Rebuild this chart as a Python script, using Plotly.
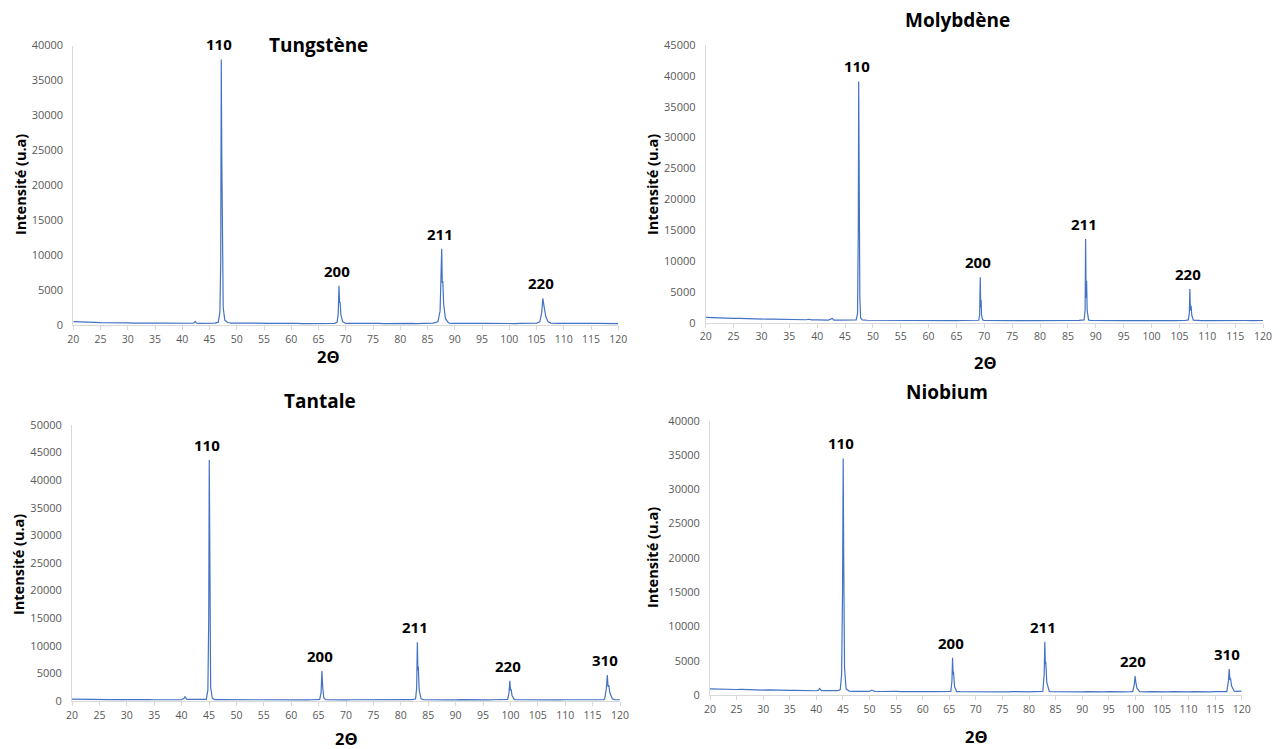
import plotly.graph_objects as go

# ---------------- DATA ----------------
# Tungstène
W_two_theta = [20, 21, 22, 23, 24, 25, 26, 27, 28, 29, 30, 31, 32, 33, 34, 35, 36, 37, 38, 39, 40, 41, 42,
               42.4, 42.6, 43, 44, 45, 46, 46.6, 46.9, 47.05, 47.15, 47.25, 47.35, 47.5, 47.8, 48.3, 49, 50,
               51, 52, 53, 54, 55, 56, 57, 58, 59, 60, 61, 62, 63, 64, 65, 66, 67, 68,
               68.4, 68.6, 68.75, 68.85, 68.95, 69.1, 69.4, 69.8, 70, 71, 72, 73, 74, 75, 76, 77, 78, 79,
               80, 81, 82, 83, 84, 85, 86, 86.9, 87.3, 87.5, 87.6, 87.7, 87.8, 87.95, 88.3, 88.8, 89,
               90, 91, 92, 93, 94, 95, 96, 97, 98, 99, 100, 101, 102, 103, 104, 105,
               105.6, 105.95, 106.15, 106.3, 106.45, 106.7, 107.1, 107.6, 108, 109, 110, 111, 112, 113,
               114, 115, 116, 117, 118, 119, 120]
W_intensity = [480, 430, 440, 390, 380, 350, 360, 320, 330, 300, 310, 280, 300, 270, 280, 260, 270, 250, 260, 240,
               250, 230, 250,
               480, 280, 240, 250, 240, 270, 400, 1800, 9000, 38000, 24000, 9000, 2500, 700, 350, 280, 260,
               250, 270, 230, 250, 220, 240, 230, 250, 220, 230, 240, 210, 230, 220, 240, 210, 230, 240,
               400, 1500, 5600, 3200, 3300, 1500, 500, 280, 240, 220, 240, 210, 230, 220, 240, 210, 230, 220,
               240, 220, 230, 210, 240, 230, 260, 450, 2000, 8000, 10900, 6000, 6300, 3000, 900, 350, 280,
               240, 220, 230, 210, 240, 220, 230, 210, 240, 220, 230, 210, 230, 220, 240, 260,
               450, 1800, 3800, 2400, 2300, 1200, 500, 280, 240, 220, 230, 210, 230, 220,
               210, 230, 220, 210, 230, 220, 210]
W_peak_theta = [47.15, 68.75, 87.6, 106.15]
W_peak_int = [38000, 5600, 10900, 3800]
W_peak_hkl = ["110", "200", "211", "220"]

# Molybdène
Mo_two_theta = [20, 21, 22, 23, 24, 25, 26, 27, 28, 29, 30, 31, 32, 33, 34, 35, 36, 37, 38, 38.5, 39, 40, 41, 42,
                42.7, 43, 44, 45, 46, 47.0, 47.25, 47.38, 47.45, 47.52, 47.58, 47.66, 47.8, 48.1, 49, 50,
                51, 52, 53, 54, 55, 56, 57, 58, 59, 60, 61, 62, 63, 64, 65, 66, 67, 68,
                69.0, 69.15, 69.27, 69.35, 69.42, 69.5, 69.7, 70, 71, 72, 73, 74, 75, 76, 77, 78, 79,
                80, 81, 82, 83, 84, 85, 86, 87, 87.9, 88.08, 88.17, 88.26, 88.35, 88.45, 88.7, 89,
                90, 91, 92, 93, 94, 95, 96, 97, 98, 99, 100, 101, 102, 103, 104, 105, 106,
                106.6, 106.78, 106.88, 106.98, 107.1, 107.22, 107.5, 108, 109, 110, 111, 112, 113,
                114, 115, 116, 117, 118, 119, 120]
Mo_intensity = [850, 800, 820, 760, 740, 700, 690, 650, 640, 610, 600, 580, 570, 550, 560, 520, 510, 490, 480, 560,
                470, 450, 460, 430,
                700, 420, 430, 400, 420, 450, 1500, 15000, 39100, 12000, 20000, 4000, 800, 450, 400, 390,
                380, 400, 360, 380, 350, 370, 350, 360, 340, 360, 350, 340, 360, 340, 350, 360, 340, 350,
                400, 1200, 7350, 2500, 3670, 1200, 450, 360, 340, 350, 330, 350, 340, 360, 330, 350, 340,
                350, 330, 350, 340, 360, 340, 350, 370, 450, 2000, 13560, 4000, 6750, 2000, 450, 370,
                350, 340, 360, 330, 350, 340, 360, 340, 350, 330, 350, 340, 360, 340, 350, 340, 360,
                450, 1500, 5460, 2000, 2750, 1200, 420, 360, 350, 340, 360, 350, 340,
                360, 350, 340, 360, 350, 370, 360]
Mo_peak_theta = [47.45, 69.27, 88.17, 106.88]
Mo_peak_int = [39100, 7350, 13560, 5460]
Mo_peak_hkl = ["110", "200", "211", "220"]

# Tantale
Ta_two_theta = [20, 21, 22, 23, 24, 25, 26, 27, 28, 29, 30, 31, 32, 33, 34, 35, 36, 37, 38, 39, 40,
                40.4, 40.6, 41, 42, 43, 44, 44.5, 44.8, 44.95, 45.05, 45.15, 45.3, 45.6, 46, 47, 48, 49, 50,
                51, 52, 53, 54, 55, 56, 57, 58, 59, 60, 61, 62, 63, 64, 65,
                65.2, 65.45, 65.6, 65.75, 65.95, 66.3, 67, 68, 69, 70, 71, 72, 73, 74, 75, 76, 77, 78, 79,
                80, 81, 82, 82.7, 82.9, 83.02, 83.12, 83.2, 83.35, 83.7, 84.1, 85, 86, 87, 88, 89,
                90, 91, 92, 93, 94, 95, 96, 97, 98, 99, 99.5, 99.75, 99.9, 100.02, 100.12, 100.3, 100.7,
                101, 102, 103, 104, 105, 106, 107, 108, 109, 110, 111, 112, 113, 114, 115, 116, 117,
                117.2, 117.5, 117.68, 117.82, 117.95, 118.15, 118.6, 119, 120]
Ta_intensity = [330, 300, 320, 280, 290, 270, 280, 260, 250, 270, 240, 260, 250, 240, 250, 230, 240, 250, 230, 240, 260,
                450, 750, 280, 250, 240, 260, 300, 2000, 15000, 43660, 15000, 2500, 500, 260, 240, 230, 250, 220,
                240, 230, 220, 240, 210, 230, 220, 240, 210, 230, 220, 240, 210, 230, 240,
                300, 1500, 5440, 2500, 600, 260, 230, 220, 240, 210, 230, 220, 240, 210, 230, 220, 240, 210, 230,
                220, 240, 250, 350, 2500, 10630, 5500, 6220, 2000, 400, 250, 230, 220, 240, 210, 230,
                220, 240, 210, 230, 220, 240, 210, 230, 220, 240, 300, 1500, 3680, 1900, 2170, 1000, 300,
                250, 230, 220, 240, 210, 230, 220, 240, 210, 230, 220, 240, 210, 230, 220, 240, 260,
                350, 2200, 4710, 2600, 2900, 1500, 400, 250, 230]
Ta_peak_theta = [45.05, 65.6, 83.02, 99.9, 117.68]
Ta_peak_int = [43660, 5440, 10630, 3680, 4710]
Ta_peak_hkl = ["110", "200", "211", "220", "310"]

# Niobium
Nb_two_theta = [20, 21, 22, 23, 24, 25, 26, 27, 28, 29, 30, 31, 32, 33, 34, 35, 36, 37, 38, 39, 40,
                40.4, 40.6, 41, 42, 43, 44, 44.5, 44.75, 44.93, 45.05, 45.15, 45.3, 45.6, 46.2, 47, 48, 49, 50,
                50.4, 51, 52, 53, 54, 55, 56, 57, 58, 59, 60, 61, 62, 63, 64, 65,
                65.3, 65.5, 65.62, 65.72, 65.8, 66.0, 66.4, 67, 68, 69, 70, 71, 72, 73, 74, 75, 76, 77, 78, 79,
                80, 81, 82, 82.6, 82.85, 82.97, 83.07, 83.15, 83.35, 83.8, 84, 85, 86, 87, 88, 89,
                90, 91, 92, 93, 94, 95, 96, 97, 98, 99, 99.5, 99.8, 99.95, 100.1, 100.3, 100.8,
                101, 102, 103, 104, 105, 106, 107, 108, 109, 110, 111, 112, 113, 114, 115, 116, 117,
                117.2, 117.5, 117.65, 117.78, 117.9, 118.1, 118.6, 119, 120]
Nb_intensity = [900, 860, 880, 830, 840, 800, 810, 760, 780, 730, 720, 740, 700, 690, 710, 670, 680, 650, 660, 630, 620,
                700, 950, 640, 620, 610, 630, 800, 3000, 15000, 34500, 20000, 4000, 900, 560, 540, 560, 530, 520,
                720, 530, 510, 540, 500, 520, 490, 510, 500, 480, 500, 490, 480, 500, 470, 490,
                520, 2000, 5440, 3000, 3400, 1200, 500, 480, 470, 490, 460, 480, 470, 490, 460, 480, 470, 490, 460, 480,
                470, 490, 480, 520, 3000, 7780, 4500, 4860, 1800, 550, 500, 480, 470, 490, 460, 480,
                470, 490, 460, 480, 470, 490, 460, 480, 470, 480, 500, 1500, 2770, 1800, 1000, 500,
                480, 470, 490, 460, 480, 470, 490, 460, 480, 470, 490, 460, 480, 470, 490, 480, 490,
                500, 2000, 3790, 2200, 2430, 1300, 550, 520, 560]
Nb_peak_theta = [45.05, 65.62, 82.97, 99.95, 117.65]
Nb_peak_int = [34500, 5440, 7780, 2770, 3790]
Nb_peak_hkl = ["110", "200", "211", "220", "310"]

# tick labels
two_theta_ticks = list(range(20, 121, 5))

# ---------------- LAYOUT ----------------
# the page body has an 8 px margin, so the figure is drawn 8 px in from the window corner;
# it is sized to reach the window's right and bottom edges
OFF = 8
FIG_W, FIG_H = 1282 - OFF, 749 - OFF
LINE = "#4472C4"
AXIS = "#d9d9d9"
TICKFONT = "#595959"
FONT = "Open Sans"


def fx(p):
    return (p - OFF) / FIG_W


def fy(p):
    return 1 - (p - OFF) / FIG_H


panels = [
    dict(title="Tungstène", x=W_two_theta, y=W_intensity, px=W_peak_theta, py=W_peak_int, hkl=W_peak_hkl,
         ymax=40000, xpix=(73.3, 618.3), ypix=(325, 45.5), tpos=(318, 45), ylab=(20, 185), xlab=(328, 356)),
    dict(title="Molybdène", x=Mo_two_theta, y=Mo_intensity, px=Mo_peak_theta, py=Mo_peak_int, hkl=Mo_peak_hkl,
         ymax=45000, xpix=(705.7, 1263), ypix=(322.7, 45), tpos=(957, 20), ylab=(652, 185), xlab=(985, 362)),
    dict(title="Tantale", x=Ta_two_theta, y=Ta_intensity, px=Ta_peak_theta, py=Ta_peak_int, hkl=Ta_peak_hkl,
         ymax=50000, xpix=(72, 620), ypix=(701, 425), tpos=(320, 401), ylab=(18, 565), xlab=(346, 738)),
    dict(title="Niobium", x=Nb_two_theta, y=Nb_intensity, px=Nb_peak_theta, py=Nb_peak_int, hkl=Nb_peak_hkl,
         ymax=40000, xpix=(710, 1241.7), ypix=(695, 420.7), tpos=(947, 392), ylab=(652, 558), xlab=(976, 736)),
]

fig = go.Figure()
annotations = []
for i, p in enumerate(panels, start=1):
    sfx = "" if i == 1 else str(i)
    xa, ya = "x" + sfx, "y" + sfx
    fig.add_trace(go.Scatter(x=p["x"], y=p["y"], mode="lines", line=dict(color=LINE, width=1.2),
                             xaxis=xa, yaxis=ya, showlegend=False, hoverinfo="x+y"))
    fig.layout["xaxis" + sfx] = dict(
        domain=[fx(p["xpix"][0]), fx(p["xpix"][1])], anchor=ya, range=[20, 120], automargin=False,
        tickmode="array", tickvals=two_theta_ticks, ticktext=[str(t) for t in two_theta_ticks],
        showgrid=False, zeroline=False, showline=True, linecolor=AXIS, linewidth=1,
        ticks="outside", ticklen=4, tickcolor=AXIS,
        tickfont=dict(family=FONT, size=10.5, color=TICKFONT))
    fig.layout["yaxis" + sfx] = dict(
        domain=[fy(p["ypix"][0]), fy(p["ypix"][1])], anchor=xa, range=[0, p["ymax"]], automargin=False,
        dtick=5000, tick0=0, tickformat="d",
        showgrid=False, zeroline=False, showline=True, linecolor=AXIS, linewidth=1,
        ticks="outside", ticklen=7, tickcolor="rgba(0,0,0,0)",
        tickfont=dict(family=FONT, size=11, color=TICKFONT))
    # panel title
    annotations.append(dict(text="<b>%s</b>" % p["title"], x=fx(p["tpos"][0]), y=fy(p["tpos"][1]),
                            xref="paper", yref="paper", showarrow=False, xanchor="center", yanchor="middle",
                            font=dict(family=FONT, size=19, color="black")))
    # y title
    annotations.append(dict(text="<b>Intensité (u.a)</b>", x=fx(p["ylab"][0]), y=fy(p["ylab"][1]),
                            xref="paper", yref="paper", showarrow=False, textangle=-90,
                            xanchor="center", yanchor="middle",
                            font=dict(family=FONT, size=14.5, color="black")))
    # x title
    annotations.append(dict(text="<b>2Θ</b>", x=fx(p["xlab"][0]), y=fy(p["xlab"][1]),
                            xref="paper", yref="paper", showarrow=False, xanchor="center", yanchor="middle",
                            font=dict(family=FONT, size=16.5, color="black")))
    # peak labels
    for t, v, h in zip(p["px"], p["py"], p["hkl"]):
        annotations.append(dict(text="<b>%s</b>" % h, x=t, y=v, xref=xa, yref=ya, showarrow=False,
                                xanchor="center", yanchor="bottom", yshift=3, xshift=-2,
                                font=dict(family=FONT, size=15, color="black")))

fig.update_layout(width=FIG_W, height=FIG_H, margin=dict(l=0, r=0, t=0, b=0, autoexpand=False),
                  paper_bgcolor="white", plot_bgcolor="white", annotations=annotations,
                  showlegend=False)

fig.write_html("out.html")
